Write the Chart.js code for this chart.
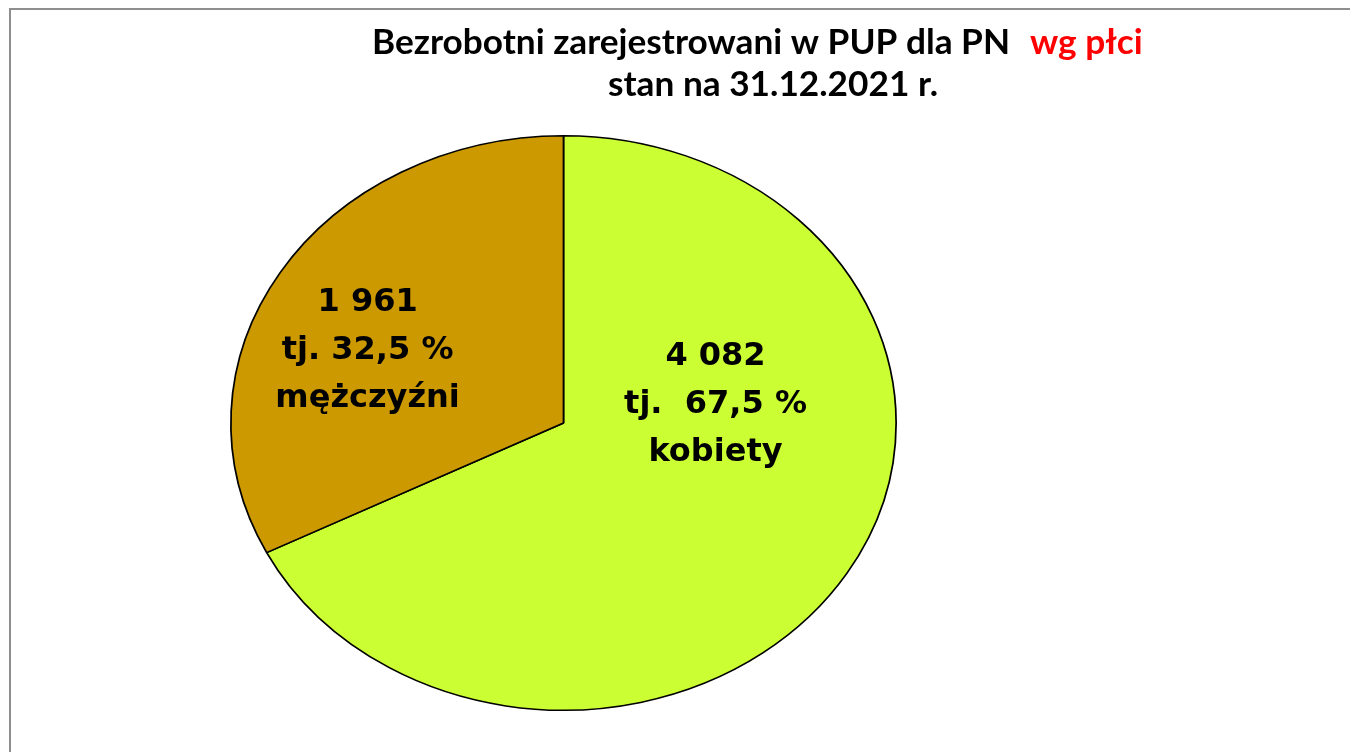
<!DOCTYPE html>
<html>
<head>
<meta charset="utf-8">
<script src="https://cdn.jsdelivr.net/npm/chart.js@4.4.1/dist/chart.umd.min.js"></script>
<style>
  html, body { margin: 0; padding: 0; background: #ffffff; }
  #wrap { width: 1350px; height: 752px; position: relative; }
  canvas { display: block; }
</style>
</head>
<body>
<div id="wrap"><canvas id="c" width="1350" height="752"></canvas></div>
<script>
// ---- data ----
const categories = ['kobiety', 'mężczyźni'];
const counts = [4082, 1961];
const countLabels = ['4 082', '1 961'];
const percentLabels = ['tj.  67,5 %', 'tj. 32,5 %'];
const sliceColors = ['#CCFF33', '#CC9900'];
const titleMain = 'Bezrobotni zarejestrowani w PUP dla PN';
const titleHighlight = 'wg płci';
const titleLine2 = 'stan na 31.12.2021 r.';

// ---- style constants ----
const ELLIPSE_RATIO = 333.5 / 288;          // horizontal stretch of the pie
const LABEL_ANCHORS = [ [0.457, -0.035], [-0.589, -0.222] ]; // fraction of radii from centre
const LABEL_FONT = 'bold 32px "DejaVu Sans", Verdana, sans-serif';
const LABEL_LINE = 48;

function pieGeom(chart) {
  const arc = chart.getDatasetMeta(0).data[0];
  return { cx: arc.x, cy: arc.y, ry: arc.outerRadius, rx: arc.outerRadius * ELLIPSE_RATIO };
}

const framePlugin = {
  id: 'frame',
  beforeDraw(chart) {
    const ctx = chart.ctx;
    ctx.save();
    ctx.fillStyle = '#ffffff';
    ctx.fillRect(0, 0, chart.width, chart.height);
    ctx.strokeStyle = '#8e8e8e';
    ctx.lineWidth = 2;
    ctx.beginPath();
    ctx.moveTo(10, chart.height);
    ctx.lineTo(10, 9);
    ctx.lineTo(chart.width, 9);
    ctx.stroke();
    ctx.restore();
  }
};

const ellipsePlugin = {
  id: 'ellipse',
  beforeDatasetsDraw(chart) {
    const g = pieGeom(chart);
    const ctx = chart.ctx;
    ctx.save();
    ctx.translate(g.cx, g.cy);
    ctx.scale(ELLIPSE_RATIO, 1);
    ctx.translate(-g.cx, -g.cy);
  },
  afterDatasetsDraw(chart) {
    chart.ctx.restore();
  }
};

const textPlugin = {
  id: 'texts',
  afterDraw(chart) {
    const ctx = chart.ctx;
    const g = pieGeom(chart);
    ctx.save();
    // title
    const targetW = 638;
    ctx.font = 'bold 26px Lato, "Open Sans", sans-serif';
    const w0 = ctx.measureText(titleMain).width;
    const fs = 26 * targetW / w0;
    ctx.font = 'bold ' + fs.toFixed(2) + 'px Lato, "Open Sans", sans-serif';
    ctx.textBaseline = 'alphabetic';
    ctx.textAlign = 'left';
    ctx.fillStyle = '#000000';
    ctx.fillText(titleMain, 372, 54);
    ctx.fillStyle = '#FF0000';
    ctx.fillText(titleHighlight, 1030, 54);
    ctx.fillStyle = '#000000';
    ctx.textAlign = 'center';
    ctx.fillText(titleLine2, 773, 96);

    // slice labels
    ctx.font = LABEL_FONT;
    ctx.fillStyle = '#000000';
    ctx.textAlign = 'center';
    categories.forEach((cat, i) => {
      const x = g.cx + LABEL_ANCHORS[i][0] * g.rx;
      const yMid = g.cy + LABEL_ANCHORS[i][1] * g.ry;
      const lines = [countLabels[i], percentLabels[i], cat];
      lines.forEach((t, k) => ctx.fillText(t, x, yMid + (k - 1) * LABEL_LINE));
    });
    ctx.restore();
  }
};

new Chart(document.getElementById('c'), {
  type: 'pie',
  data: {
    labels: categories,
    datasets: [{
      data: counts,
      backgroundColor: sliceColors,
      borderColor: '#000000',
      borderWidth: 1.5
    }]
  },
  options: {
    responsive: false,
    animation: false,
    devicePixelRatio: 1,
    rotation: 0,
    layout: { padding: { top: 135, bottom: 41, left: 275.5, right: 498.5 } },
    plugins: {
      legend: { display: false },
      tooltip: { enabled: false },
      title: { display: false }
    },
    events: []
  },
  plugins: [framePlugin, ellipsePlugin, textPlugin]
});
</script>
</body>
</html>
